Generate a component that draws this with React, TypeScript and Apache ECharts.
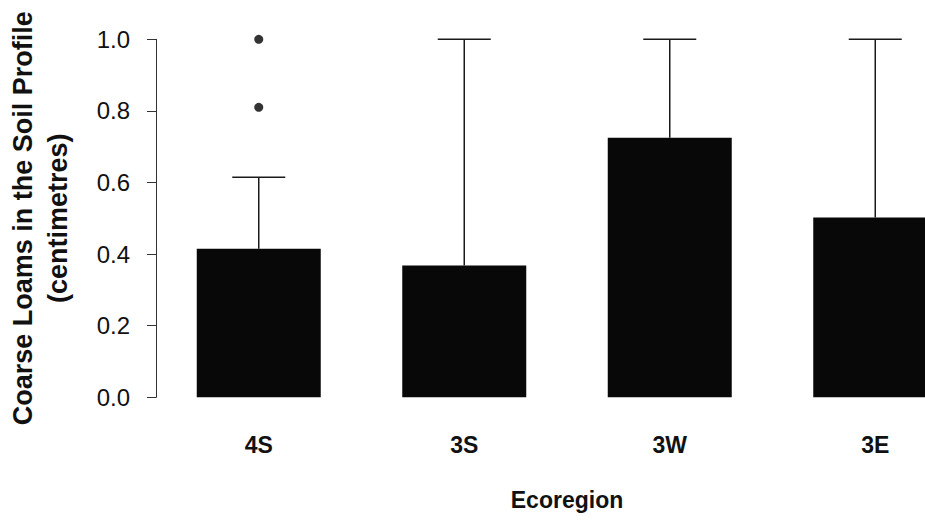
import React, { useEffect, useRef } from "react";
import * as echarts from "echarts";

const categories: string[] = ["4S", "3S", "3W", "3E"];
const barValues: number[] = [0.415, 0.368, 0.725, 0.502];
const upperWhisker: number[] = [0.615, 1.0, 1.0, 1.0];
const outlierCategory: string[] = ["4S", "4S"];
const outlierValues: number[] = [1.0, 0.81];
const yTicks: number[] = [0, 0.2, 0.4, 0.6, 0.8, 1.0];

const FONT = "'Liberation Sans', Arial, Helvetica, sans-serif";

export default function App() {
  const ref = useRef<HTMLDivElement>(null);

  useEffect(() => {
    if (!ref.current) return;
    const chart = echarts.init(ref.current, null, { renderer: "svg" });

    const errorData = categories.map((_, i) => [i, barValues[i], upperWhisker[i]]);
    const outlierData = outlierCategory.map((c, i) => [c, outlierValues[i]]);

    chart.setOption({
      animation: false,
      backgroundColor: "#ffffff",
      grid: {
        left: 156,
        top: 39.3,
        width: 822,
        height: 358,
        containLabel: false,
        outerBoundsMode: "none",
      },
      xAxis: {
        type: "category",
        data: categories,
        name: "Ecoregion",
        nameLocation: "middle",
        nameGap: 91.5,
        nameTextStyle: { fontFamily: FONT, fontWeight: "bold", fontSize: 23, color: "#111" },
        axisLine: { show: false },
        axisTick: { show: false },
        axisLabel: { margin: 36.5, fontFamily: FONT, fontWeight: "bold", fontSize: 23, color: "#111" },
        splitLine: { show: false },
      },
      yAxis: {
        type: "value",
        min: yTicks[0],
        max: yTicks[yTicks.length - 1],
        interval: 0.2,
        name: "Coarse Loams in the Soil Profile\n(centimetres)",
        nameLocation: "middle",
        nameGap: 81,
        nameTextStyle: { fontFamily: FONT, fontWeight: "bold", fontSize: 27, lineHeight: 35, color: "#111" },
        axisLine: { show: true, lineStyle: { color: "#333", width: 1 } },
        axisTick: { show: true, length: 9, lineStyle: { color: "#333", width: 1 } },
        axisLabel: {
          margin: 26,
          fontFamily: FONT,
          fontSize: 24,
          color: "#111",
          formatter: (v: number) => v.toFixed(1),
        },
        splitLine: { show: false },
      },
      series: [
        {
          type: "bar",
          data: barValues,
          barWidth: 124,
          itemStyle: { color: "#080808" },
          z: 2,
        },
        {
          type: "custom",
          data: errorData,
          z: 3,
          renderItem: (params: any, api: any) => {
            const idx = api.value(0);
            const low = api.coord([idx, api.value(1)]);
            const high = api.coord([idx, api.value(2)]);
            const half = 26.5;
            const style = { stroke: "#1a1a1a", lineWidth: 1.5 };
            return {
              type: "group",
              children: [
                { type: "line", shape: { x1: low[0], y1: low[1], x2: high[0], y2: high[1] }, style },
                { type: "line", shape: { x1: high[0] - half, y1: high[1], x2: high[0] + half, y2: high[1] }, style },
              ],
            };
          },
        },
        {
          type: "scatter",
          data: outlierData,
          symbol: "circle",
          symbolSize: 9,
          itemStyle: { color: "#000" },
          z: 4,
        },
      ],
    });

    return () => {
      chart.dispose();
    };
  }, []);

  return (
    <div
      ref={ref}
      style={{ position: "fixed", left: 0, top: 0, width: 925, height: 525, background: "#fff" }}
    />
  );
}
